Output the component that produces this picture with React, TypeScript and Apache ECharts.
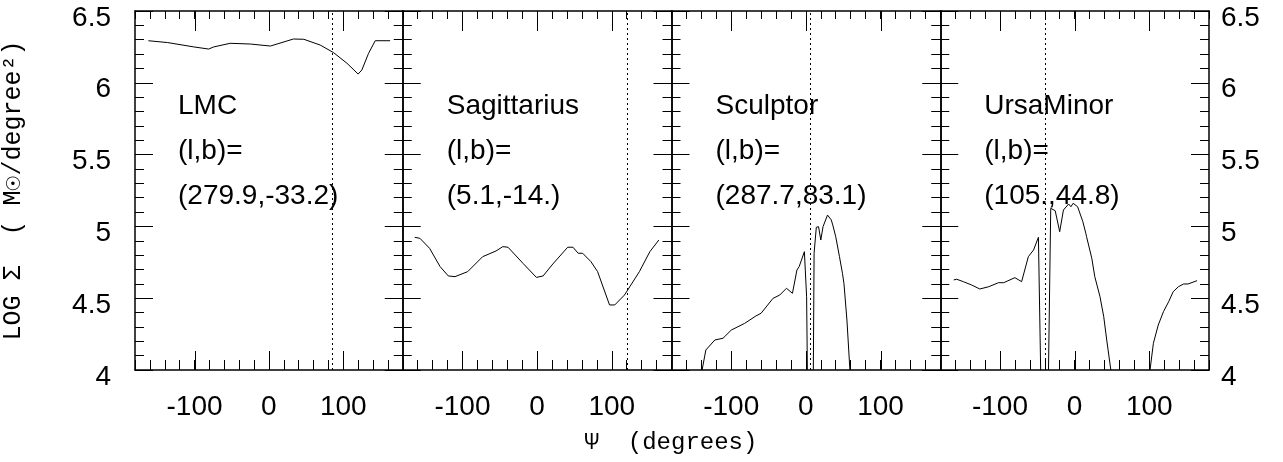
import React, { useEffect, useRef } from "react";
import * as echarts from "echarts";

// ---- data ----
const panelNames = ["LMC", "Sagittarius", "Sculptor", "UrsaMinor"];
const panelCoords = ["(279.9,-33.2)", "(5.1,-14.)", "(287.7,83.1)", "(105.,44.8)"];
const markerPsi = [85, 121, 6, -39];

const lmc = [
  [-162, 6.293], [-136, 6.28], [-101, 6.25], [-81, 6.235], [-74, 6.25], [-52, 6.275],
  [-25, 6.27], [2, 6.256], [11, 6.27], [33, 6.305], [47, 6.303], [69, 6.263],
  [87, 6.21], [105, 6.136], [120, 6.061], [125, 6.089], [134, 6.205], [143, 6.293],
  [163, 6.293],
];

const sagittarius = [
  [-164, 4.924], [-157, 4.917], [-144, 4.847], [-130, 4.72], [-119, 4.655], [-110, 4.65],
  [-93, 4.685], [-73, 4.789], [-55, 4.829], [-46, 4.859], [-39, 4.855], [-19, 4.743],
  [-1, 4.645], [8, 4.655], [21, 4.738], [41, 4.855], [48, 4.855], [55, 4.813],
  [61, 4.813], [72, 4.755], [81, 4.685], [97, 4.453], [104, 4.453], [117, 4.522],
  [137, 4.685], [151, 4.824], [163, 4.905],
];

const sculptor = [
  [-139, 4.0], [-134, 4.139], [-122, 4.209], [-111, 4.221], [-100, 4.278], [-82, 4.325],
  [-67, 4.376], [-60, 4.395], [-44, 4.499], [-35, 4.522], [-26, 4.569], [-18, 4.534],
  [-12, 4.696], [-9, 4.72], [-2, 4.824], [1, 4.51], [2, 4.0], [6, "-"], [10, 4.0],
  [11, 4.813], [14, 4.994], [17, 4.998], [20, 4.905], [23, 4.998], [29, 5.079],
  [34, 5.045], [36, 5.01], [40, 4.928], [45, 4.789], [49, 4.673], [51, 4.603],
  [55, 4.348], [59, 4.0],
];

const ursaMinor = [
  [-162, 4.627], [-158, 4.632], [-149, 4.615], [-138, 4.592], [-127, 4.564], [-115, 4.58],
  [-102, 4.608], [-95, 4.608], [-80, 4.643], [-71, 4.615], [-62, 4.789], [-55, 4.836],
  [-48.5, 4.924], [-45.5, 4.0], [-40, "-"], [-35, 4.0], [-32, 5.126], [-26, 5.109],
  [-20, 4.963], [-15, 5.114], [-8, 5.156], [-5, 5.137], [-2, 5.161], [4, 5.137],
  [11, 5.033], [15, 4.952], [16, 4.928], [23, 4.778], [27, 4.65], [34, 4.51],
  [39, 4.371], [43, 4.209], [48.5, 4.0], [75, "-"], [101, 4.0], [105.5, 4.186],
  [112, 4.313], [119, 4.406], [126, 4.476], [132, 4.545], [139, 4.58], [146, 4.599],
  [152, 4.599], [164, 4.622],
];

const panelData = [lmc, sagittarius, sculptor, ursaMinor];
const xMajorTicks = [-100, 0, 100];
const yRange = [4, 6.5];
const xTitle = "Ψ  (degrees)";
const yTitle = "LOG Σ  ( M☉/degree²)";

const SANS = "'Liberation Sans', Arial, sans-serif";
const MONO = "'Liberation Mono', 'DejaVu Sans Mono', monospace";

export default function App() {
  const ref = useRef<HTMLDivElement>(null);
  useEffect(() => {
    if (!ref.current) return;
    const chart = echarts.init(ref.current, undefined, { renderer: "svg" });
    const L0 = 134;
    const W = 268.75;
    const TOP = 11;
    const H = 359;
    const black = "#000";
    const tickLine = { color: black, width: 1 };

    const grids = panelData.map((_, i) => ({ left: L0 + W * i, top: TOP, width: W, height: H }));

    const xAxes: any[] = [];
    const yAxes: any[] = [];
    panelData.forEach((_, i) => {
      (["bottom", "top"] as const).forEach((pos) => {
        xAxes.push({
          gridIndex: i, type: "value", min: -180, max: 180, interval: 20, position: pos,
          splitLine: { show: false },
          axisLine: { show: true, onZero: false, lineStyle: { color: black, width: 1.5 } },
          axisTick: { show: true, inside: true, length: pos === "bottom" ? 10 : 8, lineStyle: tickLine },
          axisLabel: {
            show: pos === "bottom", margin: 21, fontSize: 28, color: black, fontFamily: SANS,
            formatter: (v: number) => (xMajorTicks.includes(v) ? String(v) : ""),
          },
        });
      });
      (["left", "right"] as const).forEach((pos) => {
        const showLabel = (pos === "left" && i === 0) || (pos === "right" && i === 3);
        const yAxis: any = {
          gridIndex: i, type: "value", min: yRange[0], max: yRange[1], interval: 0.5, position: pos,
          splitLine: { show: false },
          axisLine: { show: true, onZero: false, lineStyle: { color: black, width: 1.5 } },
          axisTick: { show: true, inside: true, length: 18, lineStyle: tickLine },
          minorTick: { show: true, splitNumber: 5, length: 9, lineStyle: tickLine },
          minorSplitLine: { show: false },
          axisLabel: {
            show: showLabel, fontSize: 28, color: black, fontFamily: SANS,
            margin: pos === "left" ? 24 : 12, verticalAlign: "top", lineHeight: 10,
          },
        };
        if (i === 0 && pos === "left") {
          yAxis.name = yTitle;
          yAxis.nameLocation = "middle";
          yAxis.nameRotate = 90;
          yAxis.nameGap = 109;
          yAxis.nameTextStyle = { fontSize: 25, color: black, fontFamily: MONO };
        }
        yAxes.push(yAxis);
      });
    });

    const series: any[] = [];
    panelData.forEach((d, i) => {
      series.push({
        type: "line",
        xAxisIndex: 2 * i,
        yAxisIndex: 2 * i,
        data: d,
        symbol: "none",
        connectNulls: false,
        lineStyle: { color: black, width: 1 },
        markLine: {
          silent: true, symbol: "none", label: { show: false },
          lineStyle: { color: black, width: 1, type: [2, 3] },
          data: [{ xAxis: markerPsi[i] }],
        },
      });
      // long (major) x tick marks at -100, 0, 100, top and bottom, placed by the axis scales
      series.push({
        type: "custom",
        xAxisIndex: 2 * i,
        yAxisIndex: 2 * i,
        silent: true,
        clip: false,
        data: xMajorTicks.map((v) => [v, yRange[0]]),
        renderItem: (params: any, api: any) => {
          const v = api.value(0);
          const pb = api.coord([v, yRange[0]]);
          const pt = api.coord([v, yRange[1]]);
          const x = Math.round(pb[0]) + 0.5;
          return {
            type: "group",
            children: [
              { type: "line", shape: { x1: x, y1: pb[1], x2: x, y2: pb[1] - 19 }, style: { stroke: black, lineWidth: 1 } },
              { type: "line", shape: { x1: x, y1: pt[1], x2: x, y2: pt[1] + 20 }, style: { stroke: black, lineWidth: 1 } },
            ],
          };
        },
      });
    });

    const titles: any[] = panelData.map((_, i) => ({
      text: [panelNames[i], "(l,b)=", panelCoords[i]].join("\n"),
      left: L0 + W * i + 44,
      top: 81.5,
      padding: 0,
      textStyle: { fontSize: 28, lineHeight: 45, fontWeight: "normal", color: black, fontFamily: SANS },
    }));
    titles.push({
      text: xTitle,
      left: 671,
      textAlign: "center",
      top: 430,
      padding: 0,
      textStyle: { fontSize: 24, lineHeight: 24, fontWeight: "normal", color: black, fontFamily: MONO },
    });

    chart.setOption({
      animation: false,
      title: titles,
      grid: grids,
      xAxis: xAxes,
      yAxis: yAxes,
      series,
    });
    return () => chart.dispose();
  }, []);
  return (
    <div
      ref={ref}
      style={{ position: "fixed", left: 0, top: 0, width: 1283, height: 462 }}
    />
  );
}
